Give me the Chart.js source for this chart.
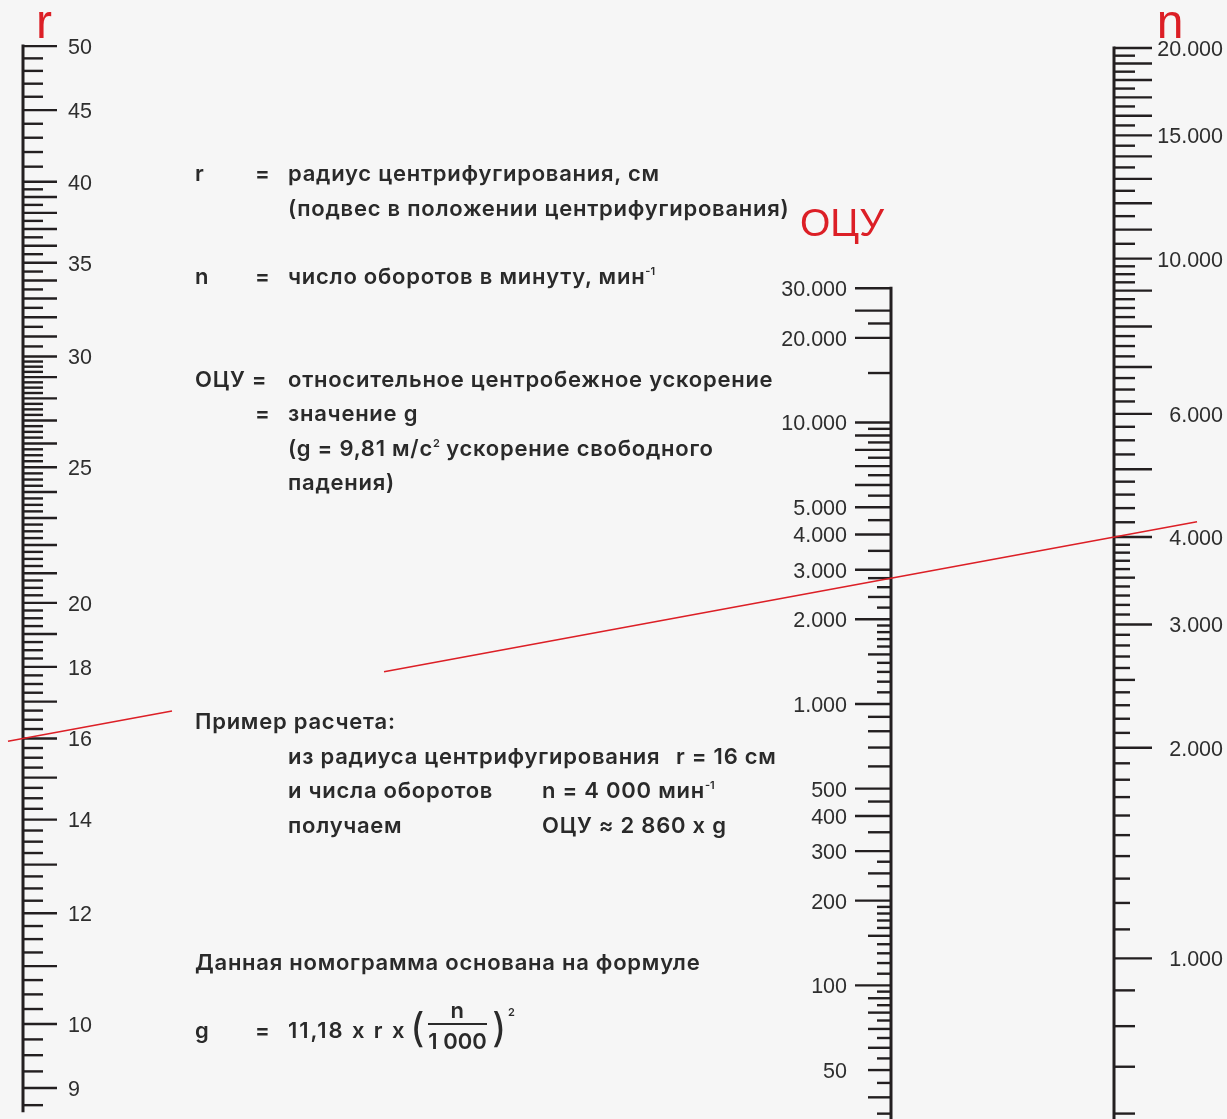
<!DOCTYPE html>
<html>
<head>
<meta charset="utf-8">
<script src="https://cdn.jsdelivr.net/npm/chart.js@4.4.1/dist/chart.umd.min.js"></script>
<style>
  html, body { margin: 0; padding: 0; background: #f6f6f6; }
  #wrap { position: relative; width: 1227px; height: 1119px; overflow: hidden; }
  #nomo { position: absolute; left: 0; top: 0; }
  .t { position: absolute; font-family: Inter, "Liberation Sans", sans-serif; font-weight: 600;
       font-size: 22px; letter-spacing: 0.75px; line-height: 24px; color: #2a2a2a; white-space: nowrap; }
  .t sup { font-size: 11px; vertical-align: 9px; line-height: 0; letter-spacing: 0; }
</style>
</head>
<body>
<div id="wrap">
  <canvas id="nomo" width="1227" height="1119"></canvas>

  <div class="t" style="left:195px;top:161px">r</div>
  <div class="t" style="left:255px;top:161px">=</div>
  <div class="t" style="left:288px;top:161px">радиус центрифугирования, см</div>
  <div class="t" style="left:288px;top:196px">(подвес в положении центрифугирования)</div>

  <div class="t" style="left:195px;top:264px">n</div>
  <div class="t" style="left:255px;top:264px">=</div>
  <div class="t" style="left:288px;top:264px">число оборотов в минуту, мин<sup>-1</sup></div>

  <div class="t" style="left:195px;top:367px">ОЦУ =</div>
  <div class="t" style="left:288px;top:367px">относительное центробежное ускорение</div>
  <div class="t" style="left:255px;top:401px">=</div>
  <div class="t" style="left:288px;top:401px">значение g</div>
  <div class="t" style="left:288px;top:436px">(g = 9,81 м/с<sup>2</sup> ускорение свободного</div>
  <div class="t" style="left:288px;top:470px">падения)</div>

  <div class="t" style="left:195px;top:709px">Пример расчета:</div>
  <div class="t" style="left:288px;top:744px">из радиуса центрифугирования</div>
  <div class="t" style="left:676px;top:744px">r = 16 см</div>
  <div class="t" style="left:288px;top:778px">и числа оборотов</div>
  <div class="t" style="left:542px;top:778px">n = 4 000 мин<sup>-1</sup></div>
  <div class="t" style="left:288px;top:813px">получаем</div>
  <div class="t" style="left:542px;top:813px">ОЦУ ≈ 2 860 x g</div>

  <div class="t" style="left:195px;top:950px">Данная номограмма основана на формуле</div>
  <div class="t" style="left:195px;top:1018px">g</div>
  <div class="t" style="left:255px;top:1018px">=</div>
  <div class="t" style="left:288px;top:1018px;letter-spacing:1.9px">11,18 x r x</div>
  <div class="t" style="left:410px;top:1004px;font-size:40px;line-height:48px;font-weight:400">(</div>
  <div class="t" style="left:428px;top:998px;width:59px;text-align:center">n</div>
  <div style="position:absolute;left:428px;top:1023px;width:59px;height:2px;background:#2a2a2a"></div>
  <div class="t" style="left:428px;top:1029px;width:59px;text-align:center;letter-spacing:0">1 000</div>
  <div class="t" style="left:492px;top:1004px;font-size:40px;line-height:48px;font-weight:400">)</div>
  <div class="t" style="left:508px;top:1000px;font-size:11px">2</div>
</div>

<script>
// r: radius, cm
const rLabels = [50, 45, 40, 35, 30, 25, 20, 18, 16, 14, 12, 10, 9];
const rLong = [[45, 50, 5], [9, 40, 1]];
const rShort = [[40, 50, 1], [30, 40, 0.5], [8.75, 30, 0.25]];

// ОЦУ (g)
const gLabels = [30000, 20000, 10000, 5000, 4000, 3000, 2000, 1000, 500, 400, 300, 200, 100, 50];
const gLong = [[20000, 30000, 5000], [1000, 10000, 1000], [100, 500, 100]];
const gMid = [[15000, 15000, 1], [22500, 22500, 1], [5500, 9500, 1000], [3500, 4500, 1000],
              [2400, 2800, 400], [1500, 1500, 1], [600, 900, 100], [350, 450, 100],
              [250, 250, 1], [150, 150, 1], [40, 90, 10]];
const gShort = [[2200, 2600, 400], [1100, 1900, 100], [225, 275, 25], [110, 190, 10], [35, 95, 5]];

// n: rpm
const nLabels = [20000, 15000, 10000, 6000, 4000, 3000, 2000, 1000];
const nLong = [[10000, 20000, 1000], [1000, 9000, 1000]];
const nMid = [[10500, 19500, 500], [5000, 10000, 250], [4000, 5000, 200],
              [3500, 3500, 1], [2500, 2500, 1], [500, 900, 100]];
const nShort = [[1000, 4000, 100]];

// worked example
const exampleR = 16;
const exampleN = 4000;

function runValues(runs) {
  const out = [];
  runs.forEach(([lo, hi, step]) => {
    for (let v = lo; v <= hi + step * 1e-6; v += step) out.push(+v.toFixed(3));
  });
  return out;
}

function tickClasses(classes) {
  // value -> index of longest class it belongs to
  const m = new Map();
  classes.forEach((runs, i) => {
    runValues(runs).forEach(v => {
      const k = v.toFixed(3);
      if (!m.has(k)) m.set(k, i);
    });
  });
  return m;
}

const fmt = v => v >= 1000 ? (v / 1000) + '.000' : String(v);

const axes = [
  { id: 'r', x: 23, side: 1, lens: [34, 20], ticks: tickClasses([rLong, rShort]),
    labels: rLabels, labelX: 68, align: 'left', top: 50, bottom: 8.65, title: 'r', titleX: 44, titleY: 38 },
  { id: 'g', x: 891, side: -1, lens: [36, 23, 14], ticks: tickClasses([gLong, gMid, gShort]),
    labels: gLabels, labelX: 847, align: 'right', top: 30000, bottom: null, title: 'ОЦУ', titleX: 842, titleY: 236 },
  { id: 'n', x: 1114, side: 1, lens: [38, 21, 16], ticks: tickClasses([nLong, nMid, nShort]),
    labels: nLabels, labelX: 1223, align: 'right', top: 20000, bottom: null, title: 'n', titleX: 1170, titleY: 38 }
];

const nomogram = {
  id: 'nomogram',
  afterDraw(chart) {
    const { ctx, scales } = chart;
    const xs = scales.x;
    ctx.save();
    ctx.lineCap = 'butt';
    axes.forEach(a => {
      const sc = scales[a.id];
      const sx = xs.getPixelForValue(a.x);
      const yTop = sc.getPixelForValue(a.top);
      const yBot = a.bottom ? sc.getPixelForValue(a.bottom) : chart.height;
      ctx.strokeStyle = '#231f20';
      ctx.lineWidth = 3;
      ctx.beginPath();
      ctx.moveTo(sx, yTop - 1.5);
      ctx.lineTo(sx, yBot);
      ctx.stroke();

      ctx.lineWidth = 2.4;
      a.ticks.forEach((cls, k) => {
        const y = sc.getPixelForValue(+k);
        if (y < 0 || y > chart.height) return;
        ctx.beginPath();
        ctx.moveTo(sx, y);
        ctx.lineTo(sx + a.side * a.lens[cls], y);
        ctx.stroke();
      });

      ctx.fillStyle = '#2e2e2e';
      ctx.font = '21.5px "Liberation Sans", Arial, sans-serif';
      ctx.textAlign = a.align;
      ctx.textBaseline = 'middle';
      a.labels.forEach(v => {
        ctx.fillText(fmt(v), xs.getPixelForValue(a.labelX), sc.getPixelForValue(v) + 2);
      });

      ctx.fillStyle = '#dc1f26';
      ctx.textAlign = 'center';
      ctx.textBaseline = 'alphabetic';
      ctx.font = (a.id === 'g' ? '39px' : '48px') + ' "Liberation Sans", Arial, sans-serif';
      ctx.fillText(a.title, xs.getPixelForValue(a.titleX), a.titleY);
    });

    // example line r = 16 -> n = 4000, broken where the text sits
    const x1 = xs.getPixelForValue(23), y1 = scales.r.getPixelForValue(exampleR);
    const x2 = xs.getPixelForValue(1114), y2 = scales.n.getPixelForValue(exampleN);
    const yAt = x => y1 + (y2 - y1) * (x - x1) / (x2 - x1);
    ctx.strokeStyle = '#dc1f26';
    ctx.lineWidth = 1.6;
    [[8, 172], [384, 1197]].forEach(([a, b]) => {
      const xa = xs.getPixelForValue(a), xb = xs.getPixelForValue(b);
      ctx.beginPath();
      ctx.moveTo(xa, yAt(xa));
      ctx.lineTo(xb, yAt(xb));
      ctx.stroke();
    });
    ctx.restore();
  }
};

new Chart(document.getElementById('nomo'), {
  type: 'scatter',
  data: { datasets: [] },
  options: {
    responsive: false,
    animation: false,
    events: [],
    layout: { padding: 0 },
    plugins: { legend: { display: false }, tooltip: { enabled: false } },
    scales: {
      x: { type: 'linear', axis: 'x', display: false, min: 0, max: 1227 },
      r: { type: 'logarithmic', axis: 'y', display: false, min: 8.553, max: 53.94 },
      g: { type: 'logarithmic', axis: 'y', display: false, min: 33.5, max: 317500 },
      n: { type: 'logarithmic', axis: 'y', display: false, min: 589.4, max: 23421 }
    }
  },
  plugins: [nomogram]
});
</script>
</body>
</html>
